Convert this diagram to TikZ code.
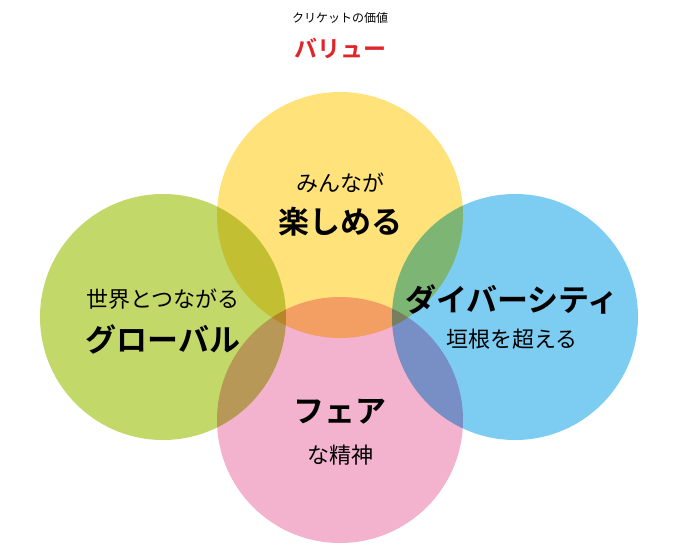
\documentclass[tikz,border=0pt]{standalone}
\usepackage{fontspec}
\setmainfont{Noto Sans CJK JP}[BoldFont={Noto Sans CJK JP Bold}]
\definecolor{cy}{HTML}{FFE27A}
\definecolor{cg}{HTML}{C2D96A}
\definecolor{cb}{HTML}{7DCDF3}
\definecolor{cp}{HTML}{F3B3CF}
\definecolor{cr}{HTML}{E0252A}
\tikzset{circ/.style={circle,minimum size=246pt,inner sep=0pt},
 lab/.style={font=\fontsize{22}{24}\selectfont},
 blab/.style={font=\fontsize{31}{33}\selectfont\bfseries}}
\begin{document}
\begin{tikzpicture}[x=1pt,y=-1pt]
\useasboundingbox (0,0) rectangle (686,548);
\begin{scope}[blend group=multiply]
\node[circ,fill=cy] (t) at (340,215) {};
\node[circ,fill=cg] (l) at (163,317) {};
\node[circ,fill=cb] (r) at (515,317) {};
\node[circ,fill=cp] (b) at (340,420) {};
\end{scope}
\node[font=\fontsize{12}{13}\selectfont] (h1) at (340,18) {クリケットの価値};
\node[font=\fontsize{23}{24}\selectfont\bfseries,text=cr] (h2) at (340,48) {バリュー};
\node[lab] (t1) at (340,183) {みんなが};
\node[blab] (t2) at (340,222) {楽しめる};
\node[lab] (l1) at (163,299) {世界とつながる};
\node[blab] (l2) at (163,339) {グローバル};
\node[blab] (r1) at (512,299) {ダイバーシティ};
\node[lab] (r2) at (512,339) {垣根を超える};
\node[blab] (b1) at (340,412) {フェア};
\node[lab] (b2) at (340,455) {な精神};
\end{tikzpicture}
\end{document}
